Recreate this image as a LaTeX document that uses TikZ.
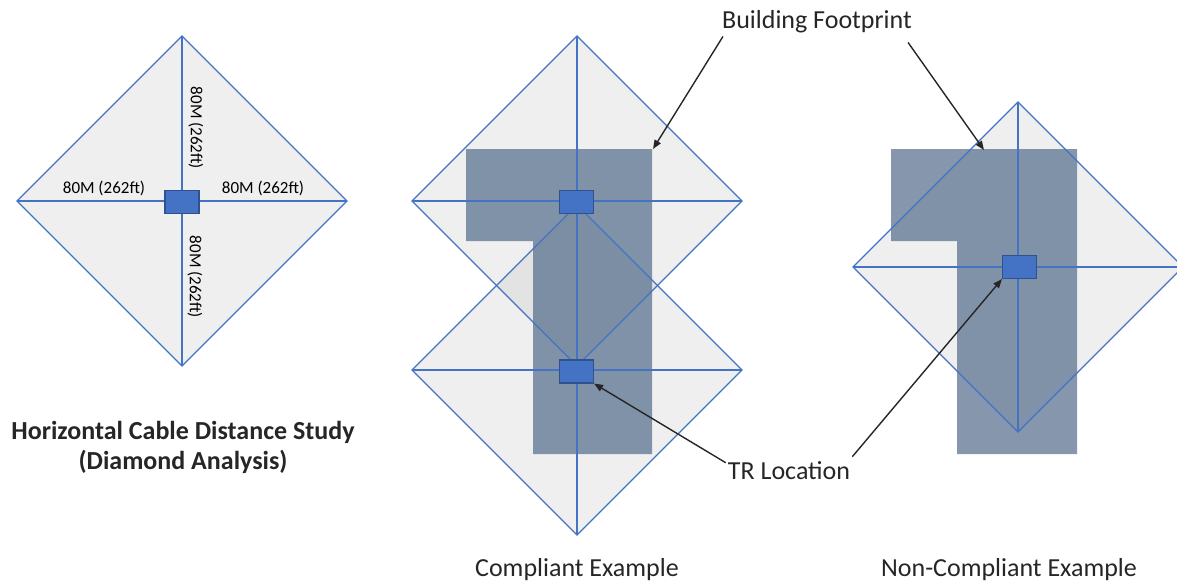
\documentclass[tikz,border=0pt]{standalone}
\usepackage{fontspec}
\setmainfont{Carlito}
\usetikzlibrary{arrows.meta}
\definecolor{zoneblue}{HTML}{4472C4}
\definecolor{zonegray}{HTML}{BFBFBF}
\definecolor{bldg}{HTML}{526A8A}
\definecolor{trfill}{HTML}{4472C4}
\definecolor{trdraw}{HTML}{2F528F}
\definecolor{callout}{HTML}{262626}
\begin{document}
\begin{tikzpicture}[x=1pt,y=-1pt,
  zonearea/.style={fill=zonegray, fill opacity=0.25},
  zoneedge/.style={draw=zoneblue, line width=1.3pt, line join=miter},
  footprint/.style={fill=bldg, fill opacity=0.7},
  trbox/.style={draw=trdraw, fill=trfill, line width=1.1pt, minimum width=34pt, minimum height=23pt, inner sep=0pt},
  dist/.style={font=\fontsize{17}{20}\selectfont, inner sep=0pt},
  lbl/.style={font=\fontsize{26}{30}\selectfont, text=black!85, inner sep=2pt},
  callarrow/.style={draw=callout, line width=1.4pt, -{Triangle[length=9pt,width=7pt]}}]
\useasboundingbox (0,0) rectangle (1177,582);

% coverage diamonds: 80 m reach from each telecom room
\foreach \cx/\cy in {182/201, 577/201, 577/370, 1018/267}
  \fill[zonearea] (\cx-165,\cy) -- (\cx,\cy-165) -- (\cx+165,\cy) -- (\cx,\cy+165) -- cycle;

% building footprints
\fill[footprint] (466,149) -- (652,149) -- (652,454) -- (533,454) -- (533,241) -- (466,241) -- cycle;
\fill[footprint] (891,149) -- (1077,149) -- (1077,454) -- (957,454) -- (957,241) -- (891,241) -- cycle;
\coordinate (fpA) at (653,149);
\coordinate (fpB) at (984,150);

% diamond outlines and cable runs
\foreach \cx/\cy in {182/201, 577/201, 577/370, 1018/267} {
  \draw[zoneedge] (\cx-165,\cy) -- (\cx,\cy-165) -- (\cx+165,\cy) -- (\cx,\cy+165) -- cycle;
  \draw[zoneedge] (\cx-165,\cy) -- (\cx+165,\cy);
  \draw[zoneedge] (\cx,\cy-165) -- (\cx,\cy+165);
}

% telecom rooms
\node[trbox] (tr0)  at (182,202) {};
\node[trbox] (trC1) at (576.5,202) {};
\node[trbox] (trC2) at (576.5,371.5) {};
\node[trbox] (trN)  at (1019.5,267) {};

% distance labels
\node[dist] (dW) at (104,188) {80M (262ft)};
\node[dist] (dE) at (263,188) {80M (262ft)};
\node[dist, rotate=-90] (dN) at (196,128) {80M (262ft)};
\node[dist, rotate=-90] (dS) at (195,277) {80M (262ft)};

% titles and captions
\node[lbl, font=\bfseries\fontsize{26}{30}\selectfont, align=center] (title) at (183,447)
  {Horizontal Cable Distance Study\\(Diamond Analysis)};
\node[lbl] (capC) at (577,570) {Compliant Example};
\node[lbl] (capN) at (1009,570) {Non-Compliant Example};

% callouts
\node[lbl] (bf)  at (817,22) {Building Footprint};
\node[lbl] (trl) at (789,471) {TR Location};
\draw[callarrow] ([shift={(3,1)}]bf.south west) -- (fpA);
\draw[callarrow] ([shift={(-6,7)}]bf.south east) -- (fpB);
\draw[callarrow] ([shift={(0,3)}]trl.north west) -- (trC2.south east);
\draw[callarrow] ([shift={(0,-3)}]trl.north east) -- (trN.south west);
\end{tikzpicture}
\end{document}
